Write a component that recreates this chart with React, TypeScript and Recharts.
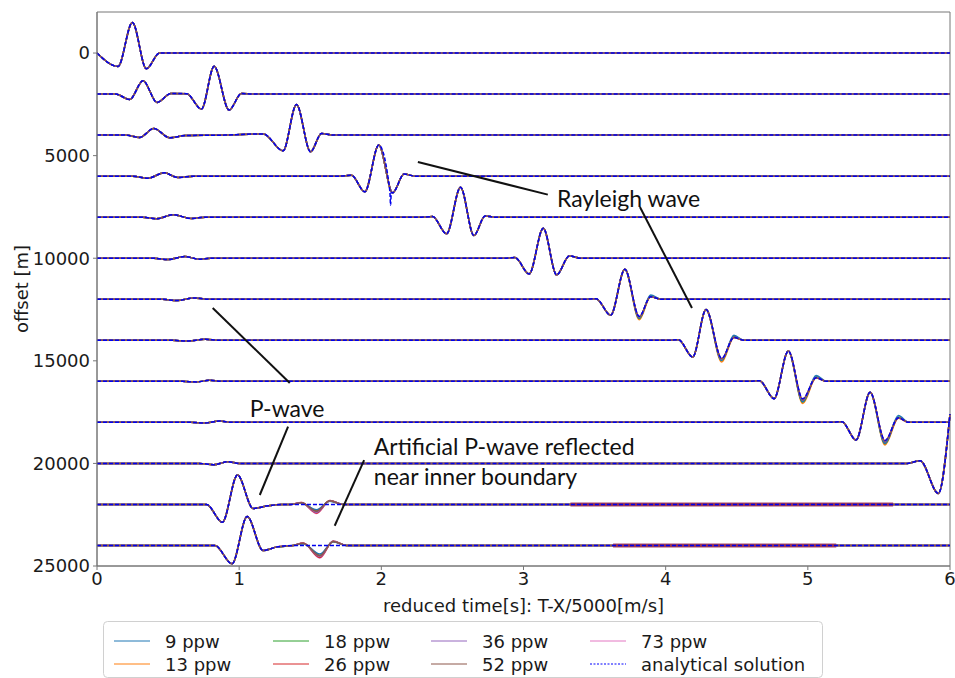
import React from 'react';
import {
  LineChart,
  Line,
  XAxis,
  YAxis,
  ReferenceLine,
  ReferenceDot,
  ReferenceArea,
  Legend,
  Label,
} from 'recharts';

type Pt = [number, number];

// Receiver offsets [m]; every trace is drawn around its own offset.
const OFFSETS = [0, 2000, 4000, 6000, 8000, 10000, 12000, 14000, 16000, 18000, 20000, 22000, 24000];

// Analytical traces: [reduced time s, deflection m] (positive = up on the plot)
const TRACE_0: Pt[] = [[0, 0], [0.148, -654], [0.249, 1494], [0.347, -766], [0.44, 0], [6, 0]];
const TRACE_2000: Pt[] = [[0, 0], [0.13, 0], [0.23, -263], [0.324, 650], [0.422, -405], [0.52, 30], [0.63, 20], [0.735, -732], [0.824, 1350], [0.929, -780], [1.016, 30], [1.1, 0], [6, 0]];
const TRACE_4000: Pt[] = [[0, 0], [0.2, 0], [0.3, -113], [0.399, 325], [0.512, -130], [0.62, -20], [0.9, 0], [1.17, 60], [1.309, -765], [1.403, 1496], [1.502, -813], [1.579, 80], [1.66, 0], [6, 0]];
const TRACE_6000: Pt[] = [[0, 0], [0.25, 0], [0.359, -98], [0.472, 160], [0.57, -70], [0.68, 0], [1.7, 0], [1.79, 40], [1.884, -765], [1.982, 1512], [2.079, -813], [2.16, 100], [2.24, 0], [6, 0]];
const TRACE_8000: Pt[] = [[0, 0], [0.32, 0], [0.418, -80], [0.535, 117], [0.664, -65], [0.76, 0], [2.28, 0], [2.36, 30], [2.459, -813], [2.557, 1464], [2.651, -894], [2.73, 60], [2.8, 0], [6, 0]];
const TRACE_10000: Pt[] = [[0, 0], [0.4, 0], [0.5, -65], [0.617, 80], [0.72, -45], [0.8, 0], [2.86, 0], [2.94, 30], [3.04, -765], [3.139, 1464], [3.233, -813], [3.322, 113], [3.4, 0], [6, 0]];
const TRACE_12000: Pt[] = [[0, 0], [0.46, 0], [0.563, -65], [0.68, 65], [0.78, 0], [3.43, 0], [3.51, 30], [3.613, -781], [3.713, 1464], [3.814, -830], [3.894, 120], [3.97, 0], [6, 0]];
const TRACE_14000: Pt[] = [[0, 0], [0.53, 0], [0.63, -40], [0.76, 50], [0.86, 0], [4.01, 0], [4.09, 30], [4.19, -813], [4.284, 1497], [4.394, -880], [4.48, 140], [4.55, 0], [6, 0]];
const TRACE_16000: Pt[] = [[0, 0], [0.6, 0], [0.7, -30], [0.79, 50], [0.88, 0], [4.58, 0], [4.66, 30], [4.762, -846], [4.863, 1480], [4.964, -850], [5.058, 180], [5.13, 0], [6, 0]];
const TRACE_18000: Pt[] = [[0, 0], [0.66, 0], [0.76, -30], [0.86, 65], [0.95, 0], [5.16, 0], [5.24, 30], [5.339, -862], [5.438, 1464], [5.543, -880], [5.637, 220], [5.71, 0], [6, 0]];
const TRACE_20000: Pt[] = [[0, 0], [0.72, 0], [0.82, -65], [0.92, 80], [1.0, 0], [5.7, 0], [5.79, 130], [5.918, -1464], [6.0, 2400]];
const TRACE_22000: Pt[] = [[0, 0], [0.77, 0], [0.882, -864], [0.988, 1432], [1.098, -195], [1.19, -81], [1.3, 0], [6, 0]];
const TRACE_24000: Pt[] = [[0, 0], [0.83, 0], [0.95, -893], [1.056, 1415], [1.168, -244], [1.26, -80], [1.38, 0], [6, 0]];

const ANALYTIC_TRACES = [
  TRACE_0, TRACE_2000, TRACE_4000, TRACE_6000, TRACE_8000, TRACE_10000, TRACE_12000,
  TRACE_14000, TRACE_16000, TRACE_18000, TRACE_20000, TRACE_22000, TRACE_24000,
];

// short glitch of the analytical trace at 6000 m
const ANALYTIC_GLITCH_6000: Pt[] = [[2.06, -740], [2.065, -1420], [2.07, -790]];

const SERIES = ['9 ppw', '13 ppw', '18 ppw', '26 ppw', '36 ppw', '52 ppw', '73 ppw'];
const COLORS = ['#1f77b4', '#ff7f0e', '#2ca02c', '#d62728', '#9467bd', '#8c564b', '#e377c2'];
// stacking order of the numerical runs (last one ends up on top)
const DRAW_ORDER = [6, 1, 2, 3, 0, 4, 5];

// Rayleigh second trough / tail of the numerical runs on 12000–18000 m
const LATE_TRACES = [6, 7, 8, 9];
const LATE_TROUGH_T = [3.814, 4.394, 4.964, 5.543];
const LATE_TAIL_T = [3.894, 4.48, 5.058, 5.637];
const LATE_TROUGH: number[][] = [
  [-920, -980, -1000, -1030],
  [-1000, -1060, -1080, -1100],
  [-940, -990, -1010, -1040],
  [-890, -940, -950, -970],
  [-870, -920, -910, -930],
  [-860, -905, -890, -910],
  [-850, -900, -880, -900],
];
const LATE_TAIL: number[][] = [
  [210, 240, 290, 330],
  [120, 140, 170, 200],
  [160, 180, 220, 260],
  [130, 150, 190, 230],
  [125, 145, 185, 225],
  [120, 140, 180, 220],
  [120, 140, 180, 220],
];

// Artificial P reflection on the 22000 m and 24000 m traces: [bump, trough, peak]
const REFLECT_T_22000 = [1.36, 1.438, 1.544, 1.638, 1.73];
const REFLECT_T_24000 = [1.38, 1.45, 1.567, 1.661, 1.755];
const REFLECT_22000: number[][] = [
  [70, -260, 160],
  [80, -300, 170],
  [75, -340, 175],
  [90, -420, 190],
  [85, -380, 185],
  [80, -330, 175],
  [95, -440, 195],
];
const REFLECT_24000: number[][] = [
  [90, -420, 180],
  [100, -470, 190],
  [100, -500, 195],
  [115, -580, 210],
  [110, -540, 205],
  [105, -500, 200],
  [120, -610, 215],
];

// late high-frequency noise of the numerical runs: [offset, start s, end s]
const NOISE_SPANS: [number, number, number][] = [
  [22000, 3.33, 5.6],
  [24000, 3.63, 5.2],
];

const X_TICKS = [0, 1, 2, 3, 4, 5, 6];
const Y_TICKS = [0, 5000, 10000, 15000, 20000, 25000];

// annotation arrows [t, offset] and labels
const RAYLEIGH_ARROWS: [Pt, Pt][] = [
  [[2.257, 5311], [3.171, 6900]],
  [[3.819, 7505], [4.185, 12428]],
];
const P_ARROWS: [Pt, Pt][] = [
  [[0.814, 12428], [1.356, 16084]],
  [[1.344, 18212], [1.145, 21540]],
];
const ARTIFICIAL_ARROWS: [Pt, Pt][] = [[[1.879, 19836], [1.672, 23038]]];
const LABELS: { t: number; off: number; text: string }[] = [
  { t: 3.235, off: 7066, text: 'Rayleigh wave' },
  { t: 1.075, off: 17276, text: 'P-wave' },
  { t: 1.947, off: 19155, text: 'Artificial P-wave reflected' },
  { t: 1.947, off: 20617, text: 'near inner boundary' },
];

type Row = { t: number; y: number | null };

function toRows(traces: Pt[][]): Row[] {
  const rows: Row[] = [];
  traces.forEach((pts, i) => {
    pts.forEach(([t, a]) => rows.push({ t, y: OFFSETS[i] - a }));
    rows.push({ t: 6, y: null });
  });
  return rows;
}

function withPoints(pts: Pt[], extra: Pt[]): Pt[] {
  const merged = pts.map((p) => [p[0], p[1]] as Pt);
  extra.forEach(([t, a]) => {
    const hit = merged.find((p) => Math.abs(p[0] - t) < 1e-9);
    if (hit) hit[1] = a;
    else merged.push([t, a]);
  });
  return merged.sort((p, q) => p[0] - q[0]);
}

function numericTraces(s: number): Pt[][] {
  return ANALYTIC_TRACES.map((pts, i) => {
    const extra: Pt[] = [];
    const k = LATE_TRACES.indexOf(i);
    if (k >= 0) {
      extra.push([LATE_TROUGH_T[k], LATE_TROUGH[s][k]]);
      extra.push([LATE_TAIL_T[k], LATE_TAIL[s][k]]);
    }
    if (i === 11) {
      const r = REFLECT_22000[s];
      const T = REFLECT_T_22000;
      extra.push([T[0], 0], [T[1], r[0]], [T[2], r[1]], [T[3], r[2]], [T[4], 0]);
    }
    if (i === 12) {
      const r = REFLECT_24000[s];
      const T = REFLECT_T_24000;
      extra.push([T[0], 0], [T[1], r[0]], [T[2], r[1]], [T[3], r[2]], [T[4], 0]);
    }
    return withPoints(pts, extra);
  });
}

const NUMERIC_DATA = SERIES.map((_, s) => toRows(numericTraces(s)));
const ANALYTIC_DATA = toRows(
  ANALYTIC_TRACES.map((pts, i) => (i === 3 ? withPoints(pts, ANALYTIC_GLITCH_6000) : pts)),
);
const NOISE_DATA: Row[][] = NOISE_SPANS.map(([off, a, b]) => [
  { t: a, y: off },
  { t: b, y: off },
]);

const TICK_FONT = { fontFamily: 'DejaVu Sans', fontSize: 18, fill: '#1a1a1a' };
const NOTE_FONT = 'Lato, "Open Sans", sans-serif';

function LegendBox() {
  const cols = [
    { x: 11, items: [0, 1] },
    { x: 170, items: [2, 3] },
    { x: 328, items: [4, 5] },
    { x: 487, items: [6, 7] },
  ];
  const rowsY = [20, 43];
  return (
    <svg width={720} height={57} style={{ display: 'block' }}>
      <rect x={0.5} y={0.5} width={719} height={56} rx={4} fill="#fff" stroke="#d0d0d0" />
      {cols.map((c, ci) =>
        c.items.map((idx, ri) => {
          const y = rowsY[ri];
          const isAnalytic = idx === 7;
          return (
            <g key={`${ci}-${ri}`}>
              <line
                x1={c.x}
                x2={c.x + 36}
                y1={y}
                y2={y}
                stroke={isAnalytic ? '#0000ff' : COLORS[idx]}
                strokeWidth={1}
                strokeDasharray={isAnalytic ? '2 1.5' : undefined}
              />
              <text
                x={c.x + 51}
                y={y}
                dominantBaseline="central"
                fontFamily="DejaVu Sans"
                fontSize={18}
                fill="#1a1a1a"
              >
                {isAnalytic ? 'analytical solution' : SERIES[idx]}
              </text>
            </g>
          );
        }),
      )}
    </svg>
  );
}

function NoteText(props: any) {
  const { cx, cy, text } = props;
  return (
    <text x={cx} y={cy} dominantBaseline="central" fontFamily={NOTE_FONT} fontSize={23} fill="#111">
      {text}
    </text>
  );
}

export default function App() {
  return (
    <div style={{ position: 'absolute', left: 0, top: 0, background: '#fff' }}>
      <LineChart width={955} height={678} margin={{ top: 12, right: 5, bottom: 0, left: 0 }}>
        <XAxis
          type="number"
          dataKey="t"
          domain={[0, 6]}
          ticks={X_TICKS}
          interval={0}
          tick={TICK_FONT}
          tickSize={4}
          tickMargin={2}
          stroke="#777"
          height={112}
        >
          <Label
            content={({ viewBox }: any) => (
              <text
                x={viewBox.x + viewBox.width / 2}
                y={605}
                textAnchor="middle"
                dominantBaseline="central"
                fontFamily="DejaVu Sans"
                fontSize={18}
                fill="#1a1a1a"
              >
                reduced time[s]: T-X/5000[m/s]
              </text>
            )}
          />
        </XAxis>
        <YAxis
          type="number"
          dataKey="y"
          domain={[-2000, 25000]}
          reversed
          ticks={Y_TICKS}
          interval={0}
          tick={TICK_FONT}
          tickSize={4}
          tickMargin={3}
          stroke="#777"
          width={97}
        >
          <Label
            content={({ viewBox }: any) => {
              const cy = viewBox.y + viewBox.height / 2;
              return (
                <text
                  x={21}
                  y={cy}
                  transform={`rotate(-90 21 ${cy})`}
                  textAnchor="middle"
                  dominantBaseline="central"
                  fontFamily="DejaVu Sans"
                  fontSize={18}
                  fill="#1a1a1a"
                >
                  offset [m]
                </text>
              );
            }}
          />
        </YAxis>
        <ReferenceArea x1={0} x2={6} y1={-2000} y2={25000} fill="none" stroke="#777" strokeWidth={1} />
        {DRAW_ORDER.map((s) => (
          <Line
            key={SERIES[s]}
            name={SERIES[s]}
            data={NUMERIC_DATA[s]}
            dataKey="y"
            type="monotone"
            stroke={COLORS[s]}
            strokeWidth={1.5}
            dot={false}
            activeDot={false}
            isAnimationActive={false}
          />
        ))}
        {NOISE_DATA.map((rows, i) => (
          <Line
            key={`noise-${i}`}
            name={`noise-${i}`}
            data={rows}
            dataKey="y"
            type="linear"
            stroke="#9b2c4e"
            strokeOpacity={0.85}
            strokeWidth={4}
            dot={false}
            activeDot={false}
            legendType="none"
            isAnimationActive={false}
          />
        ))}
        <Line
          name="analytical solution"
          data={ANALYTIC_DATA}
          dataKey="y"
          type="monotone"
          stroke="#0000ee"
          strokeWidth={1.5}
          strokeDasharray="4 2"
          dot={false}
          activeDot={false}
          isAnimationActive={false}
        />
        {[...RAYLEIGH_ARROWS, ...P_ARROWS, ...ARTIFICIAL_ARROWS].map(([a, b], i) => (
          <ReferenceLine
            key={`arrow-${i}`}
            segment={[
              { x: a[0], y: a[1] },
              { x: b[0], y: b[1] },
            ]}
            stroke="#111"
            strokeWidth={2}
          />
        ))}
        {LABELS.map((l, i) => (
          <ReferenceDot
            key={`note-${i}`}
            x={l.t}
            y={l.off}
            r={0}
            shape={(p: any) => <NoteText {...p} text={l.text} />}
          />
        ))}
        <Legend
          layout="horizontal"
          verticalAlign="middle"
          align="center"
          wrapperStyle={{ left: 103, top: 621, width: 720, height: 57 }}
          content={() => <LegendBox />}
        />
      </LineChart>
    </div>
  );
}
